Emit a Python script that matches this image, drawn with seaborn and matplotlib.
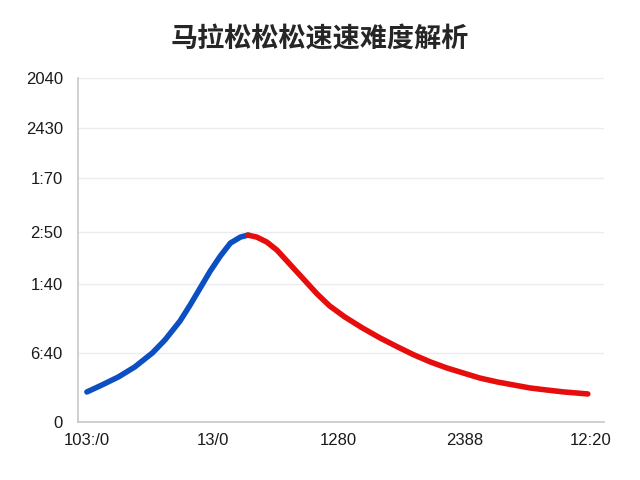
import matplotlib
matplotlib.use('Agg')
import matplotlib.pyplot as plt
import numpy as np
import pandas as pd
import seaborn as sns

# rising part of the curve (blue) and falling part (red)
rise_x = [0.00, 0.12, 0.25, 0.38, 0.52, 0.62, 0.74, 0.82, 0.90, 0.98,
          1.06, 1.14, 1.22, 1.28]
rise_y = [30, 37, 45, 55, 69, 82, 101, 117, 134, 151, 166, 179, 185, 187]
fall_x = [1.28, 1.35, 1.43, 1.51, 1.59, 1.67, 1.75, 1.83, 1.93, 2.05, 2.19,
          2.33, 2.47, 2.60, 2.73, 2.86, 2.99, 3.12, 3.26, 3.39, 3.52, 3.65,
          3.79, 3.98]
fall_y = [187, 185, 180, 172, 161, 150, 139, 128, 116, 105, 94,
          84, 75, 67, 60, 54, 49, 44, 40, 37, 34, 32,
          30, 28]

x_ticks = [0, 1, 2, 3, 4]
x_labels = ['103:/0', '13/0', '1280', '2388', '12:20']
y_ticks = [0, 69, 138, 190, 244, 294, 344]
y_labels = ['0', '6:40', '1:40', '2:50', '1:70', '2430', '2040']

title = '马拉松松松速速难度解析'

sns.set_style('whitegrid')
plt.rcParams['font.family'] = ['Liberation Sans', 'Noto Sans CJK SC', 'DejaVu Sans']

fig = plt.figure(figsize=(6.4, 4.8), dpi=100)
ax = fig.add_axes([0.122, 0.121, 0.822, 0.716])

rise = pd.DataFrame({'x': rise_x, 'y': rise_y})
fall = pd.DataFrame({'x': fall_x, 'y': fall_y})
sns.lineplot(data=rise, x='x', y='y', ax=ax, color='#0b4fc2', linewidth=4,
             solid_capstyle='round', solid_joinstyle='round')
sns.lineplot(data=fall, x='x', y='y', ax=ax, color='#e80d0d', linewidth=4,
             solid_capstyle='round', solid_joinstyle='round')

ax.set_xlim(-0.07, 4.11)
ax.set_ylim(0, 344)
ax.set_xticks(x_ticks)
ax.set_xticklabels(x_labels)
ax.set_yticks(y_ticks)
ax.set_yticklabels(y_labels)
ax.set(xlabel='', ylabel='')

ax.grid(axis='x', visible=False)
ax.grid(axis='y', color='#ececf0', linewidth=1)
for side in ['top', 'right']:
    ax.spines[side].set_visible(False)
for side in ['left', 'bottom']:
    ax.spines[side].set_color('#c8c8cc')
    ax.spines[side].set_linewidth(1.2)
ax.tick_params(axis='y', length=0, pad=11, labelsize=12, colors='#1a1a1a')
ax.tick_params(axis='x', length=0, pad=8, labelsize=12, colors='#1a1a1a')

fig.text(0.5, 0.92, title, ha='center', va='center', fontsize=19.5,
         fontweight='bold', family=['Noto Sans CJK SC', 'DejaVu Sans'])

fig.savefig('out.png', dpi=100)
